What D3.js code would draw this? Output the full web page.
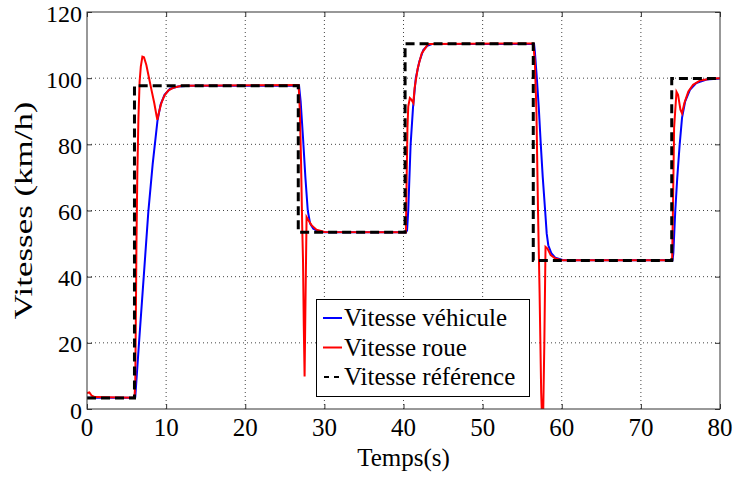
<!DOCTYPE html>
<html><head><meta charset="utf-8">
<script src="https://cdn.jsdelivr.net/npm/d3@7"></script>
<style>body{margin:0;background:#fff}svg{display:block}</style>
</head><body><svg id="c" width="734" height="480"></svg>
<script>
const xTicks = [0,10,20,30,40,50,60,70,80];
const yTicks = [0,20,40,60,80,100,120];
const seriesNames = ["Vitesse véhicule","Vitesse roue","Vitesse référence"];

const tVehicule = [0,6.05,6.1,6.6,7.2,7.75,8.3,8.9,9.3,9.8,10.5,11.5,13,26.8,27.0,27.3,27.6,27.9,28.2,28.6,29.2,30,40.3,40.45,40.6,40.9,41.2,41.55,42,42.5,43,43.6,56.5,56.6,56.85,57.1,57.35,57.6,57.9,58.1,58.3,58.7,59.2,60.2,74.0,74.1,74.35,74.6,74.9,75.2,75.6,76.2,77,78.3,80];
const vVehicule = [3.4,3.4,3.6,20.9,41,59.6,74,87,92,95,96.8,97.5,97.7,97.7,93,82,70,60,56,54.5,53.8,53.4,53.4,54,60,80,91,100,105,108.5,109.8,110.3,110.3,108,100,91,80,70,60,53,49.5,47,45.7,45,45,47,60,70,79.8,88,93,96.5,98.5,99.6,99.9];

const tRoue = [0,0.3,0.6,1,6.0,6.1,6.15,6.25,6.36,6.5,6.65,6.8,7.0,7.2,7.5,7.8,8.1,8.5,8.8,8.9,9.1,9.4,9.8,10.3,11,12,26.75,26.9,27.05,27.2,27.3,27.4,27.5,27.6,27.75,28.0,28.4,29,30,40.3,40.4,40.5,40.6,40.8,41.0,41.25,41.4,41.8,42.3,43.1,56.4,56.6,56.8,57.0,57.2,57.4,57.5,57.65,57.8,57.95,58.2,58.6,59.2,60,73.95,74.05,74.2,74.5,74.7,75.0,75.2,75.5,76,76.6,77.5,79,80];
const vRoue = [4.8,5.0,4.0,3.6,3.4,8,21,50,71,88,99,103.5,106.5,106.3,104,100.5,97,92.5,88.5,87.4,89.8,92.5,94.8,96.3,97.2,97.7,97.9,90,75,55,45,25,9.8,30,58,57,55.5,54.2,53.5,53.4,70,85,91.4,94,93.5,92.5,97,103,107.5,110.3,110.5,105,90,60,35,5,-2,-2,20,49,48.5,46.5,45.5,45,45,60,85,95.9,95,90.5,89.4,92.5,96,98,99.3,99.9,100];

const tReference = [0,6.0,6.0,26.7,26.7,40.2,40.2,56.4,56.4,73.9,73.9,80];
const vReference = [3.3,3.3,97.7,97.7,53.4,53.4,110.4,110.4,44.9,44.9,99.9,99.9];

const FONT = '"Liberation Serif", Tinos, "Times New Roman", serif';
const svg = d3.select("#c");
const L=87,R=720,T=12,B=409;
const x = d3.scaleLinear().domain([0,80]).range([L,R]);
const y = d3.scaleLinear().domain([0,120]).range([B,T]);

// grid
const g = svg.append("g");
g.selectAll(".gx").data(xTicks.slice(1,-1)).enter().append("line")
 .attr("x1",d=>x(d)).attr("x2",d=>x(d)).attr("y1",T).attr("y2",B)
 .attr("stroke","#444").attr("stroke-width",1).attr("stroke-dasharray","1,3");
g.selectAll(".gy").data(yTicks.slice(1,-1)).enter().append("line")
 .attr("y1",d=>y(d)).attr("y2",d=>y(d)).attr("x1",L).attr("x2",R)
 .attr("stroke","#444").attr("stroke-width",1).attr("stroke-dasharray","1,3");

// axis ticks (inward, all four sides)
svg.append("g").attr("transform",`translate(0,${B})`)
 .call(d3.axisBottom(x).tickValues(xTicks).tickSize(-5).tickFormat("").tickSizeOuter(0));
svg.append("g").attr("transform",`translate(${L},0)`)
 .call(d3.axisLeft(y).tickValues(yTicks).tickSize(-5).tickFormat("").tickSizeOuter(0));
svg.append("g").attr("transform",`translate(0,${T})`)
 .call(d3.axisTop(x).tickValues(xTicks).tickSize(-5).tickFormat("").tickSizeOuter(0));
svg.append("g").attr("transform",`translate(${R},0)`)
 .call(d3.axisRight(y).tickValues(yTicks).tickSize(-5).tickFormat("").tickSizeOuter(0));
svg.selectAll(".domain").remove();
svg.selectAll(".tick line").attr("stroke","#333");
svg.selectAll(".tick text").remove();

// tick labels from the same scales
svg.selectAll(".xlab").data(xTicks).enter().append("text")
 .attr("x",d=>x(d)).attr("y",B+27).attr("text-anchor","middle")
 .style("font-family",FONT).style("font-size","25px").text(d3.format("d"));
svg.selectAll(".ylab").data(yTicks).enter().append("text")
 .attr("x",L-5).attr("y",d=>y(d)+9.5).attr("text-anchor","end")
 .style("font-family",FONT).style("font-size","24px").text(d3.format("d"));

// clip
svg.append("clipPath").attr("id","clip").append("rect").attr("x",L).attr("y",T).attr("width",R-L).attr("height",B-T);
const line = d3.line().x(d=>x(d[0])).y(d=>y(d[1]));
const plot = svg.append("g").attr("clip-path","url(#clip)");
plot.append("path").datum(d3.zip(tVehicule,vVehicule)).attr("d",line)
 .attr("fill","none").attr("stroke","#0000ff").attr("stroke-width",2);
plot.append("path").datum(d3.zip(tRoue,vRoue)).attr("d",line)
 .attr("fill","none").attr("stroke","#ff0000").attr("stroke-width",2);
plot.append("path").datum(d3.zip(tReference,vReference)).attr("d",line)
 .attr("fill","none").attr("stroke","#000").attr("stroke-width",3).attr("stroke-dasharray","9,5");

// frame
svg.append("rect").attr("x",L).attr("y",T).attr("width",R-L).attr("height",B-T)
 .attr("fill","none").attr("stroke","#333").attr("stroke-width",1);

// labels
svg.append("text").attr("x",(L+R)/2).attr("y",466).attr("text-anchor","middle")
 .style("font-family",FONT).style("font-size","25px").text("Temps(s)");
svg.append("text").attr("transform",`translate(32,${(T+B)/2}) rotate(-90)`).attr("text-anchor","middle")
 .attr("textLength",218).attr("lengthAdjust","spacingAndGlyphs")
 .style("font-family",FONT).style("font-size","25px").text("Vitesses (km/h)");

// legend
svg.append("rect").attr("x",316.5).attr("y",299.5).attr("width",213).attr("height",97)
 .attr("fill","#fff").attr("stroke","#000").attr("stroke-width",1);
const colors=["#0000ff","#ff0000","#000"];
seriesNames.forEach((n,i)=>{
  const yy = 318 + i*29.5;
  svg.append("line").attr("x1",i==2?324:323).attr("x2",342).attr("y1",yy).attr("y2",yy)
   .attr("stroke",colors[i]).attr("stroke-width",2).attr("stroke-dasharray",i==2?"5,5":null);
  svg.append("text").attr("x",344).attr("y",yy+8)
   .style("font-family",FONT).style("font-size","25px").text(n);
});
</script></body></html>
